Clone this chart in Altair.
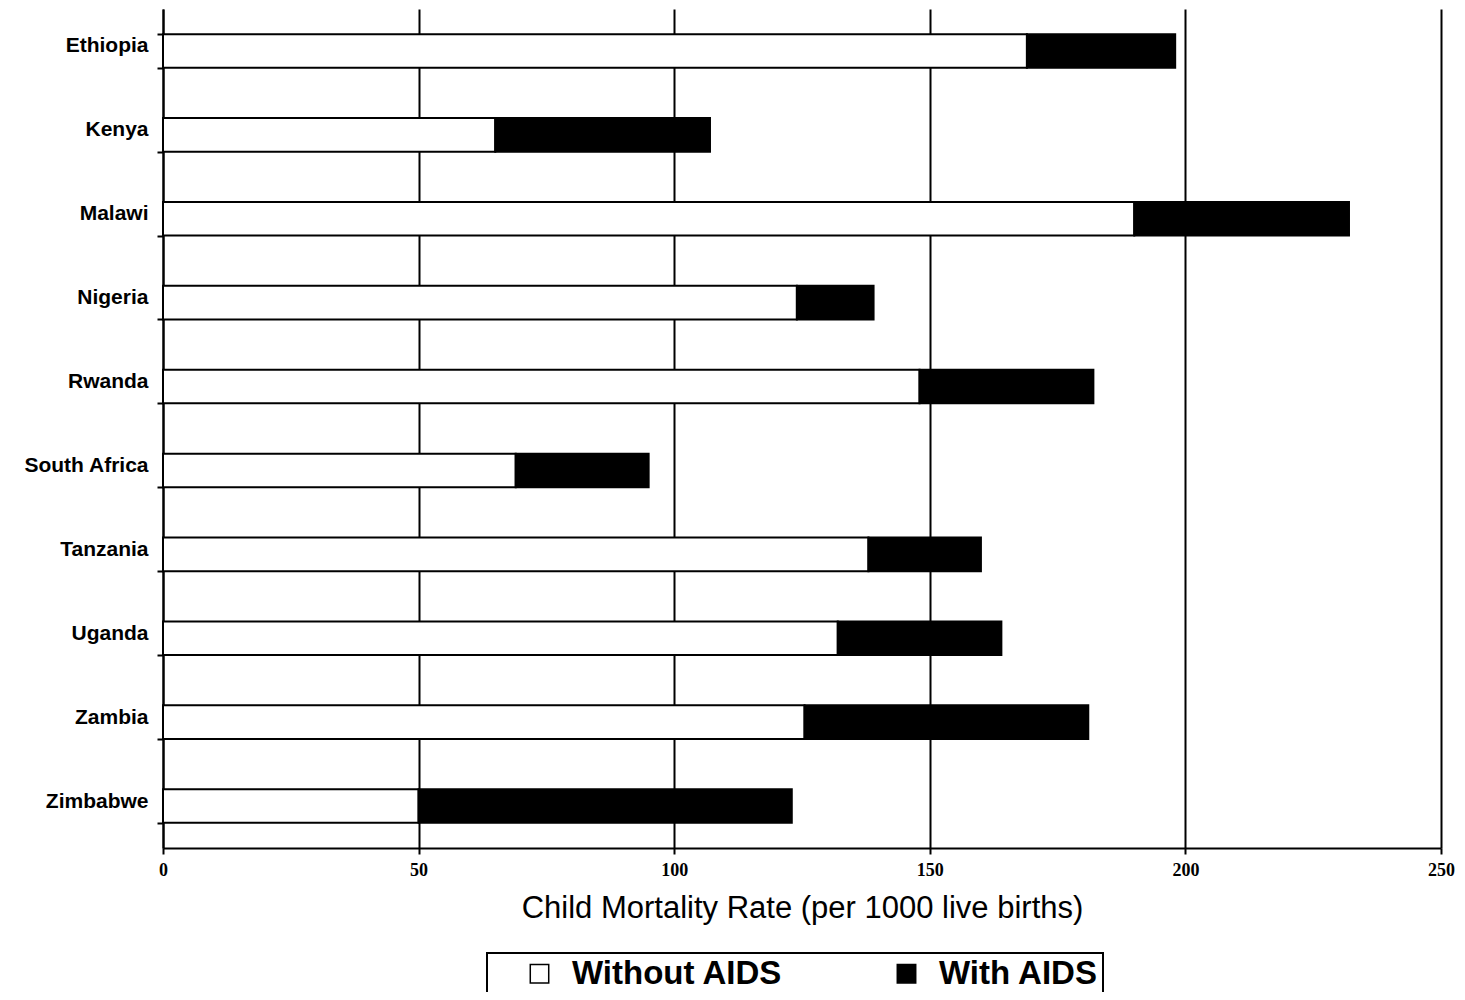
import altair as alt
import pandas as pd

countries = ["Ethiopia", "Kenya", "Malawi", "Nigeria", "Rwanda",
             "South Africa", "Tanzania", "Uganda", "Zambia", "Zimbabwe"]
without_aids = [169, 65, 190, 124, 148, 69, 138, 132, 125.5, 50]
with_aids = [198, 107, 232, 139, 182, 95, 160, 164, 181, 123]
series = ["Without AIDS", "With AIDS"]
x_ticks = [0, 50, 100, 150, 200, 250]

rows = []
for c, wo, wi in zip(countries, without_aids, with_aids):
    rows.append({"country": c, "series": series[0], "start": 0, "end": wo})
    rows.append({"country": c, "series": series[1], "start": wo, "end": wi})
df = pd.DataFrame(rows)

chart = alt.Chart(df).mark_bar(stroke="black", strokeWidth=2).encode(
    y=alt.Y(
        "country:N",
        sort=countries,
        scale=alt.Scale(paddingInner=0.6, paddingOuter=0.3),
        axis=alt.Axis(
            title=None, tickBand="extent", tickSize=6, tickWidth=2,
            tickColor="black", domainColor="black", domainWidth=2,
            labelPadding=9, labelFont="Liberation Sans", labelFontWeight="bold",
            labelFontSize=21, labelColor="black", labelOffset=-5, grid=False,
        ),
    ),
    x=alt.X(
        "start:Q",
        scale=alt.Scale(domain=[0, 250], nice=False),
        axis=alt.Axis(
            values=x_ticks, title="Child Mortality Rate (per 1000 live births)",
            grid=True, gridColor="black", gridWidth=2, gridOpacity=1,
            tickSize=6, tickWidth=2, tickColor="black",
            domainColor="black", domainWidth=2, labelFlush=False,
            labelPadding=7, labelFont="Liberation Serif", labelFontWeight="bold",
            labelFontSize=18, labelColor="black",
            titleFont="Liberation Sans", titleFontWeight="normal",
            titleFontSize=31, titleColor="black", titlePadding=14,
        ),
    ),
    x2="end:Q",
    fill=alt.Fill(
        "series:N",
        scale=alt.Scale(domain=series, range=["white", "black"]),
        legend=alt.Legend(
            title=None, orient="none", legendX=324, legendY=944,
            direction="horizontal", symbolType="square", symbolSize=340,
            symbolStrokeColor="black", symbolStrokeWidth=1.5,
            symbolOffset=32,
            labelFont="Liberation Sans", labelFontWeight="bold",
            labelFontSize=33, labelColor="black", labelLimit=500,
            labelOffset=16, columnPadding=75, padding=4,
            strokeColor="black", fillColor="white",
        ),
    ),
).properties(
    width=1278,
    height=839,
    autosize=alt.AutoSizeParams(type="none"),
    padding={"left": 155, "top": 1, "right": 16, "bottom": 144},
).configure_view(stroke=None).configure_legend(strokeWidth=2)

chart.save("out.html", embed_options={"renderer": "svg", "actions": False})
